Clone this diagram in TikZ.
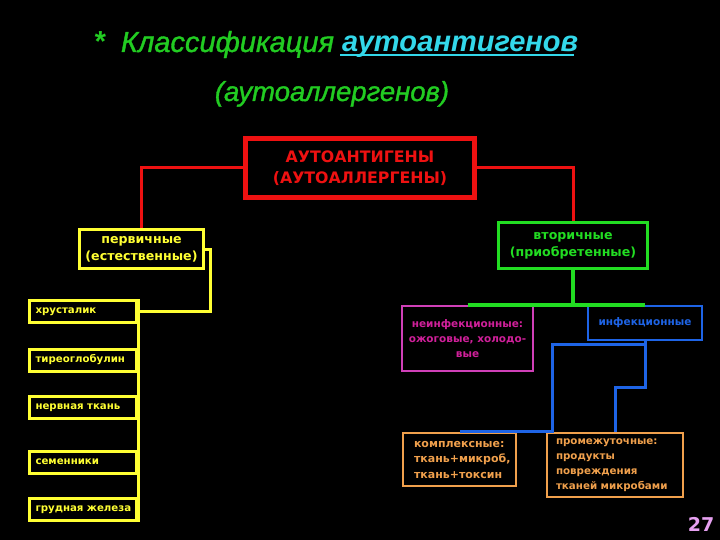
\documentclass[tikz,border=0pt]{standalone}
\usepackage{fontspec}
\setmainfont{DejaVu Sans}
\newfontfamily\titlefont{Liberation Sans}[ItalicFeatures={FakeBold=1.2}]
\definecolor{rootred}{HTML}{EE1111}
\definecolor{primyel}{HTML}{FFFF33}
\definecolor{secgreen}{HTML}{22DD22}
\definecolor{titlegreen}{HTML}{22CC22}
\definecolor{titlecyan}{HTML}{33D8EA}
\definecolor{noninfmag}{HTML}{D040B8}
\definecolor{noninftext}{HTML}{D0209A}
\definecolor{infblue}{HTML}{1E64E6}
\definecolor{outorange}{HTML}{F0A04C}
\definecolor{pagelilac}{HTML}{E6A0F0}

\begin{document}
\begin{tikzpicture}[x=1pt,y=-1pt,
        box/.style={fill=black, inner sep=0pt, align=center,
                font=\bfseries\fontsize{12.6}{17}\selectfont},
        rootbox/.style={box, draw=rootred, text=rootred, line width=5pt,
                minimum width=229pt, minimum height=59pt,
                font=\bfseries\fontsize{15.8}{21}\selectfont},
        primbox/.style={box, draw=primyel, text=primyel, line width=3pt},
        secbox/.style={box, draw=secgreen, text=secgreen, line width=3pt},
        organbox/.style={box, draw=primyel, text=primyel, line width=3pt,
                minimum width=107pt, minimum height=22pt, text width=95pt, align=left,
                font=\bfseries\fontsize{10.2}{12}\selectfont},
        noninfbox/.style={box, draw=noninfmag, text=noninftext, line width=2.5pt,
                font=\bfseries\fontsize{10.5}{15}\selectfont},
        infbox/.style={box, draw=infblue, text=infblue, line width=2.5pt,
                font=\bfseries\fontsize{10.5}{15}\selectfont},
        outbox/.style={box, draw=outorange, text=outorange, line width=2.5pt, align=left,
                font=\bfseries\fontsize{11}{15.5}\selectfont},
        titletext/.style={anchor=base, text=titlegreen,
                font=\titlefont\itshape\fontsize{29}{34}\selectfont},
        redln/.style={draw=rootred, line width=3pt},
        yelln/.style={draw=primyel, line width=3pt},
        greenln/.style={draw=secgreen, line width=3.5pt},
        blueln/.style={draw=infblue, line width=3pt}]

        \fill[black] (0,0) rectangle (720,540);
        \useasboundingbox (0,0) rectangle (720,540);

        \node[titletext, anchor=base west] (title1) at (90,52)
                {\textbf{*}\ \ Классификация {\bfseries\color{titlecyan}аутоантигенов}};
        \node[titletext, font=\titlefont\itshape\fontsize{27.5}{34}\selectfont] (title2) at (332,101) {(аутоаллергенов)};
        \draw[titlecyan, line width=2pt] (340,55.5) -- (574,55.5);

        \node[rootbox] (root) at (360,168) {АУТОАНТИГЕНЫ\\(АУТОАЛЛЕРГЕНЫ)};
        \node[primbox, minimum width=124pt, minimum height=39pt] (prim) at (141.5,249) {первичные\\(естественные)};
        \node[secbox, minimum width=149pt, minimum height=46pt] (sec) at (573,245.5) {вторичные\\(приобретенные)};

        \node[organbox] (lens) at (83,311.5) {хрусталик};
        \node[organbox] (thyro) at (83,360) {тиреоглобулин};
        \node[organbox] (nerve) at (83,407.5) {нервная ткань};
        \node[organbox] (testis) at (83,462) {семенники};
        \node[organbox] (gland) at (83,509.5) {\mbox{грудная железа}};

        \node[noninfbox, minimum width=131pt, minimum height=65pt] (noninf) at (467.5,338.5)
                {неинфекционные:\\ожоговые, холодо-\\вые};
        \node[infbox, minimum width=114pt, minimum height=34pt] (inf) at (645,323) {инфекционные};

        \node[outbox, minimum width=113pt, minimum height=53pt, text width=91pt] (compl) at (459.5,459.5)
                {комплексные:\\ткань+микроб,\\ткань+токсин};
        \node[outbox, minimum width=136pt, minimum height=64pt, text width=118pt,
                font=\bfseries\fontsize{10.3}{14.8}\selectfont] (interm) at (615,465)
                {промежуточные:\\продукты\\повреждения\\\mbox{тканей микробами}};

        \coordinate (yj) at (210,249);
        \coordinate (bj) at (552,344);
        \coordinate (bk) at (615,387);

        \draw[redln] (root.west) -| (prim.north);
        \draw[redln] (root.east) -| (sec.north);

        \draw[yelln] (prim.east) -- (yj) |- (lens.east);
        \draw[yelln] (lens.north east) -- (gland.south east);

        \draw[greenln] (sec.south) -- (sec.south |- inf.north);
        \draw[greenln] (noninf.north) -- (inf.north);

        \draw[blueln] (inf.south) |- (bj) |- (compl.north);
        \draw[blueln] (inf.south) |- (bk) -- (interm.north);

        \node[anchor=base, font=\bfseries\fontsize{19}{22}\selectfont, text=pagelilac] (page) at (701,531) {27};
    \end{tikzpicture}
\end{document}
